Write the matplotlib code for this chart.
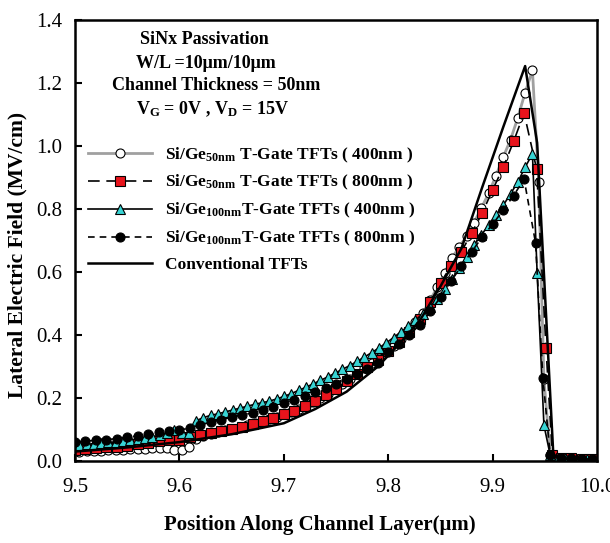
import matplotlib
matplotlib.use("Agg")
import matplotlib.pyplot as plt

plt.rcParams['font.family'] = ['Liberation Serif', 'DejaVu Serif']
plt.rcParams['mathtext.default'] = 'regular'

# ---------------- data ----------------
# grid ~0.007 (circles & triangles)
x7 = [9.504, 9.511, 9.518, 9.525, 9.532, 9.539, 9.546, 9.553, 9.560, 9.567,
      9.574, 9.581, 9.588, 9.595, 9.602, 9.609, 9.616, 9.623, 9.630, 9.637,
      9.644, 9.651, 9.658, 9.665, 9.672, 9.679, 9.686, 9.693, 9.700, 9.707,
      9.714, 9.721, 9.728, 9.735, 9.742, 9.749, 9.756, 9.763, 9.770, 9.777,
      9.784, 9.791, 9.798, 9.805, 9.812, 9.819, 9.826, 9.833, 9.840, 9.847,
      9.854, 9.861, 9.868, 9.875, 9.882, 9.889, 9.896, 9.903, 9.910, 9.917,
      9.924, 9.931, 9.938]
x7_tail = [9.944, 9.949, 9.955, 9.962, 9.969, 9.976, 9.983, 9.990, 9.997]

sige50_400_main = [0.030, 0.031, 0.032, 0.033, 0.034, 0.035, 0.036, 0.037, 0.038, 0.039,
                   0.040, 0.041, 0.040, 0.036, 0.034, 0.045, 0.070, 0.080, 0.087, 0.092,
                   0.097, 0.102, 0.108, 0.114, 0.121, 0.128, 0.134, 0.141, 0.149, 0.157,
                   0.166, 0.176, 0.187, 0.199, 0.213, 0.228, 0.244, 0.260, 0.277, 0.294,
                   0.310, 0.327, 0.345, 0.366, 0.388, 0.413, 0.440, 0.470, 0.510, 0.553,
                   0.598, 0.645, 0.680, 0.714, 0.757, 0.802, 0.850, 0.905, 0.965, 1.020,
                   1.090, 1.170, 1.240]
sige50_400_tail = [0.886, 0.260, 0.020, 0.010, 0.008, 0.007, 0.006, 0.005, 0.005]

sige100_400_main = [0.050, 0.053, 0.055, 0.057, 0.059, 0.061, 0.064, 0.067, 0.070, 0.073,
                    0.077, 0.082, 0.090, 0.098, 0.088, 0.090, 0.128, 0.138, 0.145, 0.150,
                    0.156, 0.162, 0.168, 0.174, 0.180, 0.185, 0.190, 0.197, 0.205, 0.214,
                    0.224, 0.234, 0.245, 0.256, 0.267, 0.279, 0.291, 0.303, 0.316, 0.330,
                    0.344, 0.359, 0.375, 0.392, 0.410, 0.428, 0.447, 0.468, 0.490, 0.515,
                    0.545, 0.578, 0.612, 0.648, 0.685, 0.718, 0.748, 0.780, 0.812, 0.848,
                    0.886, 0.933, 0.975]
x100_400_tail = [9.9425, 9.949, 9.955, 9.962, 9.969, 9.976, 9.983, 9.990, 9.997]
sige100_400_tail = [0.597, 0.114, 0.019, 0.010, 0.008, 0.007, 0.006, 0.005, 0.005]

# grid ~0.01 (squares & dots)
x10 = [9.50, 9.51, 9.52, 9.53, 9.54, 9.55, 9.56, 9.57, 9.58, 9.59,
       9.60, 9.61, 9.62, 9.63, 9.64, 9.65, 9.66, 9.67, 9.68, 9.69,
       9.70, 9.71, 9.72, 9.73, 9.74, 9.75, 9.76, 9.77, 9.78, 9.79,
       9.80, 9.81, 9.82, 9.83, 9.84, 9.85, 9.86, 9.87, 9.88, 9.89,
       9.90, 9.91, 9.92, 9.93]
sige50_800_main = [0.035, 0.038, 0.040, 0.043, 0.046, 0.049, 0.053, 0.057, 0.062, 0.066,
                   0.068, 0.075, 0.082, 0.089, 0.095, 0.101, 0.109, 0.118, 0.127, 0.137,
                   0.148, 0.160, 0.174, 0.190, 0.208, 0.230, 0.253, 0.277, 0.300, 0.322,
                   0.348, 0.378, 0.410, 0.450, 0.505, 0.565, 0.620, 0.665, 0.725, 0.788,
                   0.862, 0.932, 1.015, 1.105]
x50_800_tail = [9.942, 9.951, 9.957, 9.965, 9.975, 9.985, 9.995]
sige50_800_tail = [0.927, 0.359, 0.020, 0.010, 0.008, 0.006, 0.005]

sige100_800_main = [0.060, 0.063, 0.066, 0.068, 0.071, 0.075, 0.080, 0.085, 0.091, 0.095,
                    0.098, 0.105, 0.115, 0.123, 0.131, 0.139, 0.146, 0.153, 0.162, 0.171,
                    0.185, 0.195, 0.206, 0.218, 0.231, 0.245, 0.260, 0.276, 0.293, 0.312,
                    0.345, 0.370, 0.400, 0.432, 0.475, 0.520, 0.570, 0.620, 0.665, 0.712,
                    0.752, 0.797, 0.843, 0.895]
x100_800_tail = [9.941, 9.948, 9.955, 9.965, 9.975, 9.985, 9.995]
sige100_800_tail = [0.692, 0.263, 0.020, 0.010, 0.008, 0.006, 0.005]

x_conv = [9.50, 9.55, 9.60, 9.65, 9.70, 9.73, 9.76, 9.79, 9.81, 9.83,
          9.85, 9.87, 9.89, 9.91, 9.931, 9.9425, 9.958, 9.965, 10.0]
conv = [0.030, 0.043, 0.060, 0.085, 0.120, 0.165, 0.220, 0.300, 0.370, 0.445,
        0.555, 0.675, 0.870, 1.060, 1.254, 1.010, 0.020, 0.008, 0.003]

labels = [r"Si/Ge$_{50nm}$ T-Gate TFTs ( 400nm )",
          r"Si/Ge$_{50nm}$ T-Gate TFTs ( 800nm )",
          r"Si/Ge$_{100nm}$T-Gate TFTs ( 400nm )",
          r"Si/Ge$_{100nm}$T-Gate TFTs ( 800nm )",
          "Conventional TFTs"]

xticks = [9.5, 9.6, 9.7, 9.8, 9.9, 10.0]
yticks = [0.0, 0.2, 0.4, 0.6, 0.8, 1.0, 1.2, 1.4]

# ---------------- plot ----------------
fig = plt.figure(figsize=(6.10, 5.43), dpi=100)
ax = fig.add_axes([0.123, 0.151, 0.856, 0.812])

ax.plot(x7 + x7_tail, sige50_400_main + sige50_400_tail, color='#a0a0a0', lw=2.0,
        marker='o', ms=6.5, mfc='white', mec='black', mew=0.8, label=labels[0])
ax.plot(x10 + x50_800_tail, sige50_800_main + sige50_800_tail, color='black', lw=1.2,
        ls=(0, (7, 4)), marker='s', ms=6.5, mfc='#e8141c', mec='black', mew=0.8,
        label=labels[1])
ax.plot(x7 + x100_400_tail, sige100_400_main + sige100_400_tail, color='black', lw=1.2,
        marker='^', ms=6.5, mfc='#38d4d4', mec='black', mew=0.8, label=labels[2])
ax.plot(x10 + x100_800_tail, sige100_800_main + sige100_800_tail, color='black', lw=1.2,
        ls=(0, (4, 3)), marker='o', ms=6.5, mfc='black', mec='black', mew=0.8,
        label=labels[3])
ax.plot(x_conv, conv, color='black', lw=1.8, label=labels[4])

ax.set_xlim(9.5, 10.0)
ax.set_ylim(0.0, 1.4)
ax.set_xticks(xticks)
ax.set_yticks(yticks)
ax.set_xticklabels([f"{v:.1f}" for v in xticks])
ax.set_yticklabels([f"{v:.1f}" for v in yticks])
ax.tick_params(direction='in', length=5, width=1.5, labelsize=15,
               top=False, right=False)
ax.tick_params(axis='x', pad=12)
ax.tick_params(axis='y', pad=9)
for s in ax.spines.values():
    s.set_linewidth(1.8)

ax.set_xlabel("Position Along Channel Layer(\u03bcm)", fontsize=15, fontweight='bold')
ax.set_ylabel("Lateral Electric Field (MV/cm)", fontsize=15.5, fontweight='bold')
ax.xaxis.set_label_coords(0.469, -0.122)
ax.yaxis.set_label_coords(-0.092, 0.467)

txt_kw = dict(transform=ax.transAxes, ha='center', va='center', fontsize=13,
              fontweight='bold')
ax.text(0.247, 0.955, "SiNx Passivation", **txt_kw)
ax.text(0.251, 0.902, "W/L =10\u03bcm/10\u03bcm", **txt_kw)
ax.text(0.270, 0.851, "Channel Thickness = 50nm", **txt_kw)
ax.text(0.264, 0.798, r"V$_{G}$ = 0V , V$_{D}$ = 15V", **txt_kw)

leg = ax.legend(loc='upper left', bbox_to_anchor=(0.025, 0.716), frameon=False,
                prop={'family': 'Liberation Serif', 'weight': 'bold', 'size': 12.5},
                handlelength=3.7, handletextpad=0.75, labelspacing=0.5,
                markerscale=1.0, borderaxespad=0.0, borderpad=0.0)

fig.savefig("out.png", dpi=100)
